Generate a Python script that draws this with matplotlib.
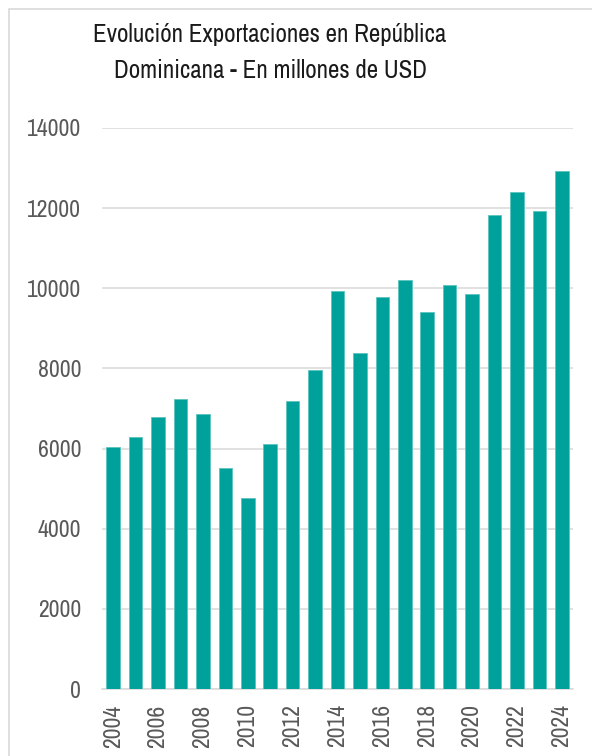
import matplotlib
matplotlib.use("Agg")
import matplotlib.pyplot as plt
from matplotlib.patches import Rectangle

years = list(range(2004, 2025))
exports = [6030, 6290, 6800, 7240, 6860, 5520, 4760, 6110, 7180, 7960,
           9930, 8390, 9780, 10210, 9410, 10080, 9860, 11830, 12400, 11930, 12930]
y_ticks = [0, 2000, 4000, 6000, 8000, 10000, 12000, 14000]
title = "Evolución Exportaciones en República\nDominicana - En millones de USD"

plt.rcParams['font.family'] = ['Archivo Narrow', 'Liberation Sans', 'DejaVu Sans']

W, H = 592, 756
fig = plt.figure(figsize=(W / 100, H / 100), dpi=100)
fig.patch.set_facecolor('white')

# chart frame (left and top edges visible)
fig.add_artist(Rectangle((9 / W, -0.05), 1.2, 1 - 9 / H + 0.05, transform=fig.transFigure,
                         fill=False, edgecolor='#d9d9d9', linewidth=1.2))

ax = fig.add_axes([102 / W, 1 - 689 / H, (573 - 102) / W, (689 - 128) / H])
x = list(range(len(years)))
ax.bar(x, exports, width=0.6, color='#00A19B', edgecolor='#5cc4bf', linewidth=0.6, zorder=3)

ax.set_xlim(-0.5, len(years) - 0.5)
ax.set_ylim(0, 14000)
ax.set_yticks(y_ticks)
ax.set_yticklabels([str(v) for v in y_ticks])
ax.set_xticks(x[::2])
ax.set_xticklabels([str(y) for y in years[::2]], rotation=90)

ax.grid(axis='y', color='#d9d9d9', linewidth=1.1, zorder=0)
ax.grid(axis='x', visible=False)
for s in ['top', 'right', 'left']:
    ax.spines[s].set_visible(False)
ax.spines['bottom'].set_color('#d9d9d9')
ax.spines['bottom'].set_linewidth(1.1)
ax.tick_params(axis='y', length=0, pad=15, labelsize=17, labelcolor='#595959')
ax.tick_params(axis='x', length=0, pad=11, labelsize=17, labelcolor='#595959')

fig.text(270 / W, 1 - 23 / H, title, ha='center', va='top', fontsize=18,
         color='#1a1a1a', linespacing=1.7)

fig.savefig('out.png', dpi=100)
